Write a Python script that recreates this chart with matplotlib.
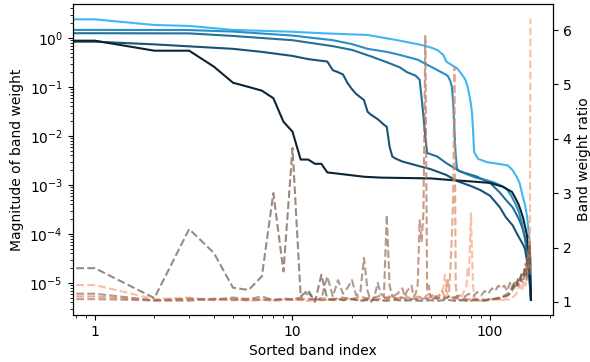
import numpy as np
import matplotlib
matplotlib.use("Agg")
import matplotlib.pyplot as plt
from matplotlib.ticker import FuncFormatter

# solid curves: magnitude of band weight (left axis), key points
s1_x = [0, 1, 2, 3, 5, 10, 11, 14, 24, 35, 45, 50, 54, 58, 60, 64, 68, 72, 75, 77, 79, 80, 81, 82, 83,
        87, 97, 110, 123, 130, 136, 141, 146, 150, 154, 157, 159, 160, 161]
s1_y = [2.4, 2.4, 1.84, 1.76, 1.46, 1.34, 1.31, 1.25, 1.15, 0.88, 0.72, 0.64, 0.57, 0.45, 0.33, 0.28,
        0.24, 0.18, 0.14, 0.10, 0.06, 0.045, 0.029, 0.013, 0.0047, 0.0034, 0.0029, 0.0027, 0.0025,
        0.002, 0.0015, 0.0011, 0.0006, 0.0004, 0.00022, 0.0001, 4.7e-5, 2.8e-5, 4.5e-6]

s2_x = [0, 1, 3, 5, 10, 16, 20, 24, 30, 35, 43, 52, 58, 61, 63, 64, 65, 66, 67, 68, 69, 75, 85, 95,
        105, 115, 122, 128, 134, 140, 145, 150, 154, 157, 159, 161]
s2_y = [1.46, 1.46, 1.45, 1.35, 1.12, 0.9, 0.75, 0.6, 0.52, 0.45, 0.36, 0.24, 0.19, 0.17, 0.13, 0.10,
        0.05, 0.012, 0.004, 0.0022, 0.002, 0.0017, 0.0014, 0.00126, 0.00112, 0.00095, 0.0008, 0.0006,
        0.00042, 0.00028, 0.00016, 8e-5, 4e-5, 2e-5, 1e-5, 4.5e-6]

s3_x = [0, 1, 3, 5, 10, 16, 20, 25, 30, 35, 38, 42, 44, 45, 46, 47, 48, 54, 60, 70, 85, 100, 112,
        120, 130, 140, 147, 152, 156, 159, 161]
s3_y = [1.25, 1.25, 1.24, 1.1, 0.9, 0.68, 0.57, 0.42, 0.32, 0.25, 0.2, 0.17, 0.14, 0.06, 0.025,
        0.0095, 0.0045, 0.0038, 0.0028, 0.0019, 0.0015, 0.0011, 0.0007, 0.0005, 0.00035, 0.0002,
        0.00012, 7e-5, 3e-5, 1.2e-5, 4.5e-6]

s4_x = [0, 1, 2, 5, 7, 10, 12, 15, 16, 17, 18, 19, 20, 21, 23, 24, 25, 27, 29, 30, 31, 32, 33, 36,
        41, 50, 60, 68, 80, 89, 100, 112, 120, 130, 137, 147, 150, 156, 158, 161]
s4_y = [0.84, 0.84, 0.74, 0.60, 0.52, 0.43, 0.37, 0.33, 0.22, 0.2, 0.18, 0.12, 0.09, 0.072, 0.054,
        0.031, 0.027, 0.022, 0.017, 0.0154, 0.006, 0.0038, 0.0035, 0.003, 0.0026, 0.0021, 0.0016,
        0.0012, 0.00095, 0.00079, 0.0006, 0.00035, 0.00022, 0.00015, 0.0001, 6e-5, 5e-5, 2e-5,
        1.2e-5, 4.5e-6]

s5_x = [0, 1, 2, 3, 4, 5, 6, 7, 8, 9, 10, 11, 12, 13, 14, 15, 17, 23, 28, 50, 60, 80, 100, 108,
        116, 122, 129, 134, 139, 143, 147, 151, 154, 156, 158, 160, 161]
s5_y = [0.88, 0.88, 0.55, 0.55, 0.26, 0.122, 0.10, 0.084, 0.059, 0.0195, 0.0122, 0.0033, 0.0033,
        0.0027, 0.0027, 0.0018, 0.0017, 0.00147, 0.00141, 0.00136, 0.00128, 0.00118, 0.0011, 0.001,
        0.00092, 0.00082, 0.00072, 0.00055, 0.00041, 0.0003, 0.00021, 0.00013, 8.9e-5, 5e-5, 2.9e-5,
        1.2e-5, 4.5e-6]

# dashed curves: band weight ratio (right axis)
d1_x = [0, 1, 2, 3, 4, 5, 6, 7, 8, 10, 12, 14, 17, 20, 23, 26, 29, 32, 35, 38, 41, 44, 47, 50, 53,
        56, 58, 59, 60, 61, 63, 66, 69, 72, 74, 76, 77, 78, 79, 80, 81, 82, 83, 85, 88, 91, 94, 97,
        100, 104, 108, 112, 116, 120, 124, 128, 132, 136, 139, 142, 145, 148, 151, 154, 156, 158,
        159, 160]
d1_r = [1.31, 1.31, 1.05, 1.08, 1.03, 1.06, 1.02, 1.04, 1.03, 1.05, 1.02, 1.04, 1.03, 1.06, 1.02,
        1.05, 1.03, 1.06, 1.04, 1.07, 1.03, 1.08, 1.04, 1.1, 1.05, 1.12, 1.25, 1.5, 1.35, 1.1, 1.06,
        1.09, 1.05, 1.1, 1.2, 1.3, 1.64, 1.45, 2.0, 2.63, 1.9, 1.3, 1.1, 1.05, 1.03, 1.06, 1.02, 1.04,
        1.03, 1.05, 1.04, 1.06, 1.03, 1.05, 1.04, 1.08, 1.1, 1.15, 1.25, 1.3, 1.2, 1.4, 1.3, 1.5,
        1.7, 2.3, 1.8, 6.21]

d2_x = [0, 1, 2, 3, 4, 5, 6, 7, 8, 10, 12, 14, 16, 19, 22, 25, 28, 31, 34, 37, 40, 43, 46, 49, 52,
        55, 57, 59, 61, 62, 63, 64, 65, 66, 67, 68, 70, 73, 76, 79, 82, 85, 88, 92, 96, 100, 104,
        108, 112, 116, 120, 124, 128, 131, 134, 137, 140, 143, 146, 149, 152, 154, 156, 158, 159, 160]
d2_r = [1.10, 1.10, 1.02, 1.04, 1.05, 1.03, 1.06, 1.04, 1.02, 1.05, 1.03, 1.07, 1.04, 1.06, 1.03,
        1.08, 1.05, 1.1, 1.06, 1.12, 1.05, 1.1, 1.07, 1.15, 1.08, 1.12, 1.2, 1.1, 1.4, 1.2, 1.6, 2.2,
        2.9, 5.32, 1.3, 1.1, 1.03, 1.06, 1.02, 1.05, 1.03, 1.05, 1.02, 1.04, 1.03, 1.05, 1.03, 1.06,
        1.04, 1.08, 1.1, 1.12, 1.2, 1.3, 1.25, 1.35, 1.3, 1.45, 1.4, 1.6, 1.5, 1.8, 1.7, 2.0, 1.8, 1.6]

d3_x = [0, 1, 2, 3, 4, 5, 6, 8, 10, 12, 14, 16, 18, 20, 22, 24, 26, 28, 30, 32, 34, 36, 37, 38, 40,
        41, 42, 43, 44, 45, 46, 47, 48, 49, 50, 52, 54, 57, 60, 63, 66, 69, 72, 75, 78, 82, 86, 90,
        94, 98, 102, 106, 110, 114, 118, 122, 126, 130, 133, 136, 139, 142, 145, 148, 151, 153, 155,
        157, 159, 160]
d3_r = [1.05, 1.05, 1.03, 1.02, 1.06, 1.04, 1.03, 1.05, 1.04, 1.06, 1.03, 1.05, 1.08, 1.05, 1.1,
        1.06, 1.08, 1.12, 1.06, 1.1, 1.15, 1.25, 1.1, 1.2, 1.3, 1.1, 1.15, 1.3, 2.5, 2.1, 2.65, 5.89,
        1.2, 1.3, 1.08, 1.15, 1.05, 1.1, 1.06, 1.12, 1.05, 1.08, 1.04, 1.06, 1.03, 1.05, 1.04, 1.06,
        1.03, 1.05, 1.04, 1.06, 1.08, 1.06, 1.12, 1.15, 1.2, 1.3, 1.35, 1.3, 1.45, 1.4, 1.55, 1.5,
        1.7, 1.6, 1.9, 1.8, 2.1, 1.5]

d4_x = [0, 1, 2, 3, 4, 5, 6, 7, 8, 9, 10, 11, 12, 13, 14, 15, 16, 17, 18, 19, 20, 21, 22, 23, 24,
        25, 26, 27, 28, 29, 30, 31, 32, 34, 36, 38, 41, 44, 47, 50, 54, 58, 62, 66, 70, 74, 78, 82,
        86, 90, 94, 98, 102, 106, 110, 114, 118, 122, 126, 130, 134, 138, 142, 146, 150, 153, 155,
        157, 159, 160]
d4_r = [1.15, 1.15, 1.03, 1.06, 1.04, 1.08, 1.05, 1.1, 1.03, 1.06, 1.05, 1.08, 1.16, 1.04, 1.06,
        1.47, 1.1, 1.4, 1.15, 1.26, 1.4, 1.12, 1.15, 1.81, 1.2, 1.0, 1.1, 1.35, 1.15, 1.1, 2.6, 1.3,
        1.1, 1.05, 1.08, 1.04, 1.06, 1.04, 1.07, 1.05, 1.08, 1.06, 1.1, 1.08, 1.12, 1.09, 1.15, 1.1,
        1.18, 1.12, 1.2, 1.15, 1.25, 1.2, 1.3, 1.25, 1.3, 1.2, 1.35, 1.25, 1.4, 1.3, 1.45, 1.35, 1.5,
        1.4, 1.7, 1.6, 1.9, 1.5]

d5_x = [0, 1, 2, 3, 4, 5, 6, 7, 8, 9, 10, 11, 12, 13, 14, 15, 16, 17, 18, 20, 22, 24, 27, 30, 33,
        36, 40, 45, 50, 55, 60, 66, 72, 78, 84, 90, 96, 102, 108, 114, 118, 122, 126, 129, 132, 135,
        138, 141, 144, 147, 150, 152, 154, 156, 158, 159, 160]
d5_r = [1.62, 1.62, 1.07, 2.34, 1.9, 1.26, 1.22, 1.47, 3.0, 1.56, 3.83, 1.1, 1.22, 1.0, 1.5, 1.05,
        1.04, 1.06, 1.03, 1.05, 1.02, 1.04, 1.03, 1.02, 1.04, 1.02, 1.03, 1.02, 1.03, 1.02, 1.04,
        1.02, 1.03, 1.02, 1.03, 1.02, 1.03, 1.05, 1.06, 1.08, 1.1, 1.12, 1.15, 1.2, 1.3, 1.25, 1.4,
        1.35, 1.5, 1.45, 1.6, 1.5, 1.8, 1.7, 2.05, 1.9, 1.6]

solid = [(s1_x, s1_y), (s2_x, s2_y), (s3_x, s3_y), (s4_x, s4_y), (s5_x, s5_y)]
dashed = [(d1_x, d1_r), (d2_x, d2_r), (d3_x, d3_r), (d4_x, d4_r), (d5_x, d5_r)]
solid_colors = ['#3fb7f5', '#2b8fc6', '#22709b', '#1b5274', '#0d2331']
dashed_colors = ['#faa57b', '#d88863', '#af6f55', '#8e6f60', '#6f584c']

fig = plt.figure(figsize=(5.9, 3.62), dpi=100)
ax = fig.add_subplot(111)
fig.subplots_adjust(left=0.123, right=0.937, bottom=0.130, top=0.989)

for (x, y), c in zip(solid, solid_colors):
    ax.plot(x, y, color=c, lw=1.5)
ax.set_xscale('log')
ax.set_yscale('log')
ax.set_xlim(0.771, 207.7)
ax.set_ylim(2.22e-6, 4.94)
ax.xaxis.set_major_formatter(FuncFormatter(lambda v, pos: '%g' % v))
ax.set_xlabel('Sorted band index')
ax.set_ylabel('Magnitude of band weight')

ax2 = ax.twinx()
for (x, r), c in zip(dashed, dashed_colors):
    ax2.plot(x, r, color=c, lw=1.5, ls='--', alpha=0.7)
ax2.set_ylim(0.76, 6.48)
ax2.set_ylabel('Band weight ratio')

fig.savefig('out.png', dpi=100)
